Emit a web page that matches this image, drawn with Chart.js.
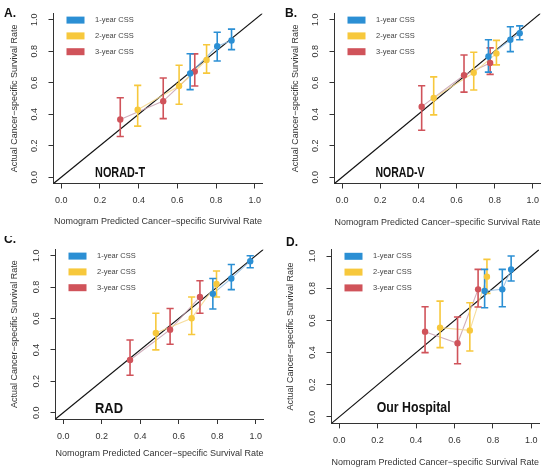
<!DOCTYPE html>
<html>
<head>
<meta charset="utf-8">
<script src="https://cdn.jsdelivr.net/npm/chart.js@4.4.1/dist/chart.umd.min.js"></script>
<style>
  html, body { margin: 0; padding: 0; background: #fff; }
  #wrap { position: relative; width: 550px; height: 472px; overflow: hidden; }
  #wrap canvas { position: absolute; }
</style>
</head>
<body>
<div id="wrap">
  <canvas id="cA" width="275" height="236" style="left:0;top:0"></canvas>
  <canvas id="cB" width="275" height="236" style="left:275px;top:0"></canvas>
  <canvas id="cC" width="275" height="236" style="left:0;top:236px"></canvas>
  <canvas id="cD" width="275" height="236" style="left:275px;top:236px"></canvas>
</div>
<script>
// categories / labels
const seriesNames = ['1-year CSS', '2-year CSS', '3-year CSS'];
const tickValues = [0, 0.2, 0.4, 0.6, 0.8, 1.0];
const xTitle = 'Nomogram Predicted Cancer\u2212specific Survival Rate';
const yTitle = 'Actual Cancer\u2212specific Survival Rate';

// each row = [1-year, 2-year, 3-year], three risk groups per series
// A. NORAD-T
const predA = [[0.666, 0.806, 0.880], [0.395, 0.609, 0.751], [0.305, 0.527, 0.690]];
const obsA  = [[0.659, 0.831, 0.868], [0.428, 0.579, 0.744], [0.366, 0.483, 0.671]];
const lowA  = [[0.556, 0.738, 0.810], [0.324, 0.463, 0.661], [0.258, 0.372, 0.579]];
const highA = [[0.784, 0.920, 0.940], [0.583, 0.711, 0.841], [0.504, 0.630, 0.783]];

// B. NORAD-V
const predB = [[0.767, 0.882, 0.931], [0.480, 0.690, 0.809], [0.417, 0.639, 0.776]];
const obsB  = [[0.766, 0.873, 0.914], [0.503, 0.663, 0.786], [0.448, 0.647, 0.725]];
const lowB  = [[0.667, 0.797, 0.873], [0.396, 0.554, 0.713], [0.298, 0.540, 0.653]];
const highB = [[0.873, 0.955, 0.961], [0.637, 0.793, 0.869], [0.581, 0.776, 0.821]];

// C. RAD
const predC = [[0.777, 0.873, 0.971], [0.481, 0.667, 0.796], [0.347, 0.555, 0.710]];
const obsC  = [[0.757, 0.855, 0.965], [0.508, 0.602, 0.820], [0.336, 0.529, 0.737]];
const lowC  = [[0.660, 0.784, 0.923], [0.400, 0.498, 0.737], [0.239, 0.436, 0.633]];
const highC = [[0.855, 0.944, 1.000], [0.633, 0.737, 0.902], [0.463, 0.664, 0.840]];

// D. Our Hospital
const predD = [[0.757, 0.849, 0.895], [0.525, 0.680, 0.769], [0.447, 0.616, 0.723]];
const obsD  = [[0.783, 0.793, 0.917], [0.555, 0.538, 0.872], [0.530, 0.458, 0.793]];
const lowD  = [[0.679, 0.685, 0.845], [0.431, 0.410, 0.768], [0.400, 0.331, 0.683]];
const highD = [[0.917, 0.917, 1.000], [0.720, 0.710, 0.979], [0.685, 0.621, 0.917]];

const FONT = '"Liberation Sans", Arial, Helvetica, sans-serif';
const colors = ['#2b8fd4', '#f7c83c', '#d0535a'];
const faint = ['rgba(140,185,225,0.85)', 'rgba(245,215,140,0.85)', 'rgba(200,160,175,0.85)'];
const textColor = '#333';

// per-panel layout
const panels = [
  { id: 'cA', letter: 'A.', name: 'NORAD-T', pred: predA, obs: obsA, low: lowA, high: highA,
    area: { l: 53.5, r: 262.5, t: 10, b: 183.5 }, letterPos: [4, 17], nameAt: [0.175, 0.0], nameW: 50,
    yTitleX: 15, xTitleY: 222 },
  { id: 'cB', letter: 'B.', name: 'NORAD-V', pred: predB, obs: obsB, low: lowB, high: highB,
    area: { l: 59.5, r: 265.5, t: 9, b: 183.5 }, letterPos: [10, 17], nameAt: [0.175, 0.0], nameW: 49,
    yTitleX: 21, xTitleY: 223 },
  { id: 'cC', letter: 'C.', name: 'RAD', pred: predC, obs: obsC, low: lowC, high: highC,
    area: { l: 55.5, r: 263.5, t: 9.6, b: 183 }, letterPos: [4, 7], nameAt: [0.165, 0.0], nameW: 28,
    yTitleX: 15, xTitleY: 218 },
  { id: 'cD', letter: 'D.', name: 'Our Hospital', pred: predD, obs: obsD, low: lowD, high: highD,
    area: { l: 56.5, r: 264, t: 13.6, b: 187.4 }, letterPos: [11, 10], nameAt: [0.195, 0.03], nameW: 74,
    yTitleX: 16, xTitleY: 227 }
];

// legend, cohort name and panel letter
const decor = {
  id: 'decor',
  afterDatasetsDraw(chart, args, opts) {
    const { ctx, chartArea: a, scales: { x, y } } = chart;
    ctx.save();
    ctx.textBaseline = 'middle';
    ctx.font = '7.5px ' + FONT;
    seriesNames.forEach((name, s) => {
      const cy = a.top + 6.7 + s * 15.8;
      ctx.fillStyle = colors[s];
      ctx.fillRect(a.left + 13, cy - 3.5, 18, 7);
      ctx.fillStyle = '#444';
      ctx.fillText(name, a.left + 41.5, cy);
    });
    ctx.textBaseline = 'alphabetic';
    ctx.fillStyle = '#111';
    ctx.font = 'bold 14px ' + FONT;
    ctx.fillText(opts.name, x.getPixelForValue(opts.nameAt[0]), y.getPixelForValue(opts.nameAt[1]), opts.nameW);
    ctx.font = 'bold 12px ' + FONT;
    ctx.fillText(opts.letter, opts.letterPos[0], opts.letterPos[1]);
    ctx.restore();
  }
};

function buildDatasets(p) {
  const ds = [];
  ds.push({
    data: [{ x: -0.04, y: -0.04 }, { x: 1.04, y: 1.04 }],
    showLine: true, borderColor: '#111', borderWidth: 1.2, pointRadius: 0, order: 10
  });
  for (let s = 0; s < 3; s++) {
    const pts = p.pred[s].map((v, i) => ({ x: v, y: p.obs[s][i] }));
    ds.push({
      data: pts, showLine: true, borderColor: faint[s], borderWidth: 1.1,
      pointRadius: 0, order: 8
    });
    p.pred[s].forEach((v, i) => {
      ds.push({
        data: [{ x: v, y: p.low[s][i] }, { x: v, y: p.high[s][i] }],
        showLine: true, borderColor: colors[s], borderWidth: 1.6,
        pointStyle: 'line', pointRadius: 3.6, pointBorderColor: colors[s], pointBorderWidth: 1.6,
        order: 4
      });
    });
    ds.push({
      data: pts, showLine: false, pointRadius: 3.2, pointBackgroundColor: colors[s],
      pointBorderColor: colors[s], pointBorderWidth: 0, order: 1
    });
  }
  return ds;
}

const axisFont = { family: FONT, size: 9 };
const lh = axisFont.size * 1.2;

panels.forEach(p => {
  const a = p.area;
  new Chart(document.getElementById(p.id), {
    type: 'scatter',
    data: { datasets: buildDatasets(p) },
    options: {
      responsive: false,
      animation: false,
      events: [],
      layout: { padding: { left: 0, top: a.t, right: 275 - a.r, bottom: 0 } },
      plugins: {
        legend: { display: false },
        tooltip: { enabled: false },
        decor: { name: p.name, nameAt: p.nameAt, nameW: p.nameW, letter: p.letter, letterPos: p.letterPos }
      },
      scales: {
        x: {
          type: 'linear', min: -0.04, max: 1.04,
          afterBuildTicks: s => { s.ticks = tickValues.map(v => ({ value: v })); },
          afterFit: s => { s.height = 236 - a.b; },
          ticks: { callback: v => v.toFixed(1), font: axisFont, color: textColor, padding: 7, maxRotation: 0, autoSkip: false },
          grid: { drawOnChartArea: false, drawTicks: true, tickLength: 5, color: '#333', tickWidth: 1 },
          border: { color: '#333', width: 1 },
          title: { display: true, text: xTitle, font: axisFont, color: textColor,
                   padding: { top: 0, bottom: 236 - p.xTitleY - lh / 2 } }
        },
        y: {
          type: 'linear', min: -0.04, max: 1.04,
          afterBuildTicks: s => { s.ticks = tickValues.map(v => ({ value: v })); },
          afterFit: s => { s.width = a.l; },
          ticks: { callback: v => v.toFixed(1), font: axisFont, color: textColor, padding: 8,
                   minRotation: 90, maxRotation: 90, crossAlign: 'center', autoSkip: false },
          grid: { drawOnChartArea: false, drawTicks: true, tickLength: 5, color: '#333', tickWidth: 1 },
          border: { color: '#333', width: 1 },
          title: { display: true, text: yTitle, font: axisFont, color: textColor,
                   padding: { top: p.yTitleX - lh / 2, bottom: 0 } }
        }
      }
    },
    plugins: [decor]
  });
});
</script>
</body>
</html>
